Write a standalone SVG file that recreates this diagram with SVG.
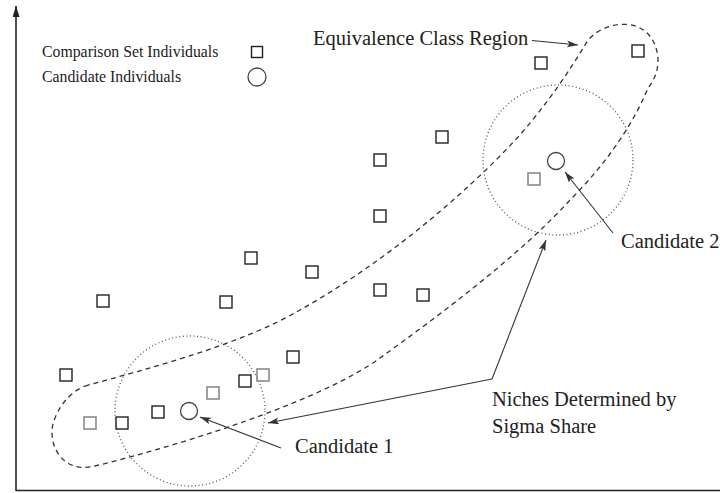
<svg xmlns="http://www.w3.org/2000/svg" width="720" height="493" viewBox="0 0 720 493">
  <style>
    .sq { fill: none; stroke: #222; stroke-width: 1.4; }
    .sqg { fill: none; stroke: #8a8a8a; stroke-width: 1.6; }
    .cand { fill: none; stroke: #444; stroke-width: 1.3; }
    .niche { fill: none; stroke: #555; stroke-width: 1.3; stroke-dasharray: 1 2.6; }
    .region { fill: none; stroke: #333; stroke-width: 1.3; stroke-dasharray: 5 4; }
    .conn { fill: none; stroke: #333; stroke-width: 1.1; }
    .axis { fill: none; stroke: #222; stroke-width: 1.6; }
    .big { font-family: "Liberation Serif", "Times New Roman", serif; font-size: 20.5px; fill: #222; }
    .small { font-family: "Liberation Serif", "Times New Roman", serif; font-size: 15.8px; fill: #222; }
  </style>
  <defs>
    <marker id="ah" markerUnits="userSpaceOnUse" markerWidth="12" markerHeight="8" refX="11" refY="3.5" orient="auto">
      <path d="M0,0 L11,3.5 L0,7 L2.5,3.5 z" fill="#333"/>
    </marker>
    <marker id="axh" markerUnits="userSpaceOnUse" markerWidth="12" markerHeight="8" refX="11" refY="3.5" orient="auto">
      <path d="M0,0 L11,3.5 L0,7 z" fill="#222"/>
    </marker>
  </defs>
  <rect width="720" height="493" fill="#fff"/>

  <g id="axes">
    <line class="axis" x1="16" y1="491" x2="16" y2="6" marker-end="url(#axh)"/>
    <line class="axis" x1="16" y1="490.5" x2="720" y2="490.5" stroke-width="2"/>
  </g>

  <g id="legend">
    <text class="small" x="42" y="57">Comparison Set Individuals</text>
    <rect class="sq" x="251.5" y="46.5" width="11" height="11"/>
    <text class="small" x="42" y="82">Candidate Individuals</text>
    <circle class="cand" cx="257" cy="77" r="9"/>
  </g>

  <g id="equivalence-region">
    <path class="region" d="M 85 386 C 150 368, 240 345, 300 310 C 380 265, 460 200, 520 135 C 550 100, 570 70, 585 45 C 597 22, 645 12, 656 48 C 661 64, 656 78, 648 88 C 635 120, 610 160, 570 200 C 520 255, 440 315, 380 358 C 325 398, 200 440, 95 466 C 60 475, 45 440, 55 418 C 62 400, 75 390, 85 386 Z"/>
  </g>

  <g id="niche-1">
    <circle class="niche" cx="190" cy="411" r="75"/>
  </g>
  <g id="niche-2">
    <circle class="niche" cx="558" cy="160" r="75"/>
  </g>

  <g id="comparison-set">
    <rect class="sq" x="535" y="57" width="12" height="12"/>
    <rect class="sq" x="632" y="45" width="12" height="12"/>
    <rect class="sq" x="436" y="131" width="12" height="12"/>
    <rect class="sq" x="374" y="154" width="12" height="12"/>
    <rect class="sq" x="374" y="210" width="12" height="12"/>
    <rect class="sq" x="245" y="252" width="12" height="12"/>
    <rect class="sq" x="306" y="266" width="12" height="12"/>
    <rect class="sq" x="220" y="296" width="12" height="12"/>
    <rect class="sq" x="97" y="295" width="12" height="12"/>
    <rect class="sq" x="374" y="284" width="12" height="12"/>
    <rect class="sq" x="417" y="289" width="12" height="12"/>
    <rect class="sq" x="60" y="369" width="12" height="12"/>
    <rect class="sq" x="287" y="351" width="12" height="12"/>
    <rect class="sq" x="239" y="375" width="12" height="12"/>
    <rect class="sq" x="152" y="406" width="12" height="12"/>
    <rect class="sq" x="116" y="417" width="12" height="12"/>
    <rect class="sqg" x="528" y="173" width="12" height="12"/>
    <rect class="sqg" x="257" y="369" width="12" height="12"/>
    <rect class="sqg" x="207" y="387" width="12" height="12"/>
    <rect class="sqg" x="84" y="417" width="12" height="12"/>
  </g>

  <g id="candidate-1">
    <circle class="cand" cx="189" cy="411" r="8.5"/>
  </g>
  <g id="candidate-2">
    <circle class="cand" cx="556" cy="161" r="8.5"/>
  </g>

  <g id="connectors">
    <line class="conn" x1="532" y1="40.5" x2="578" y2="45" marker-end="url(#ah)"/>
    <line class="conn" x1="613" y1="233" x2="565" y2="172" marker-end="url(#ah)"/>
    <line class="conn" x1="281" y1="448" x2="200" y2="417" marker-end="url(#ah)"/>
    <polyline class="conn" points="492,379 268,423" marker-end="url(#ah)"/>
    <polyline class="conn" points="492,379 546,240" marker-end="url(#ah)"/>
  </g>

  <g id="labels">
    <text class="big" x="313" y="45" font-size="21">Equivalence Class Region</text>
    <text class="big" x="621" y="248">Candidate 2</text>
    <text class="big" x="295" y="453">Candidate 1</text>
    <text class="big" x="492" y="406">Niches Determined by</text>
    <text class="big" x="492" y="433">Sigma Share</text>
  </g>
</svg>
